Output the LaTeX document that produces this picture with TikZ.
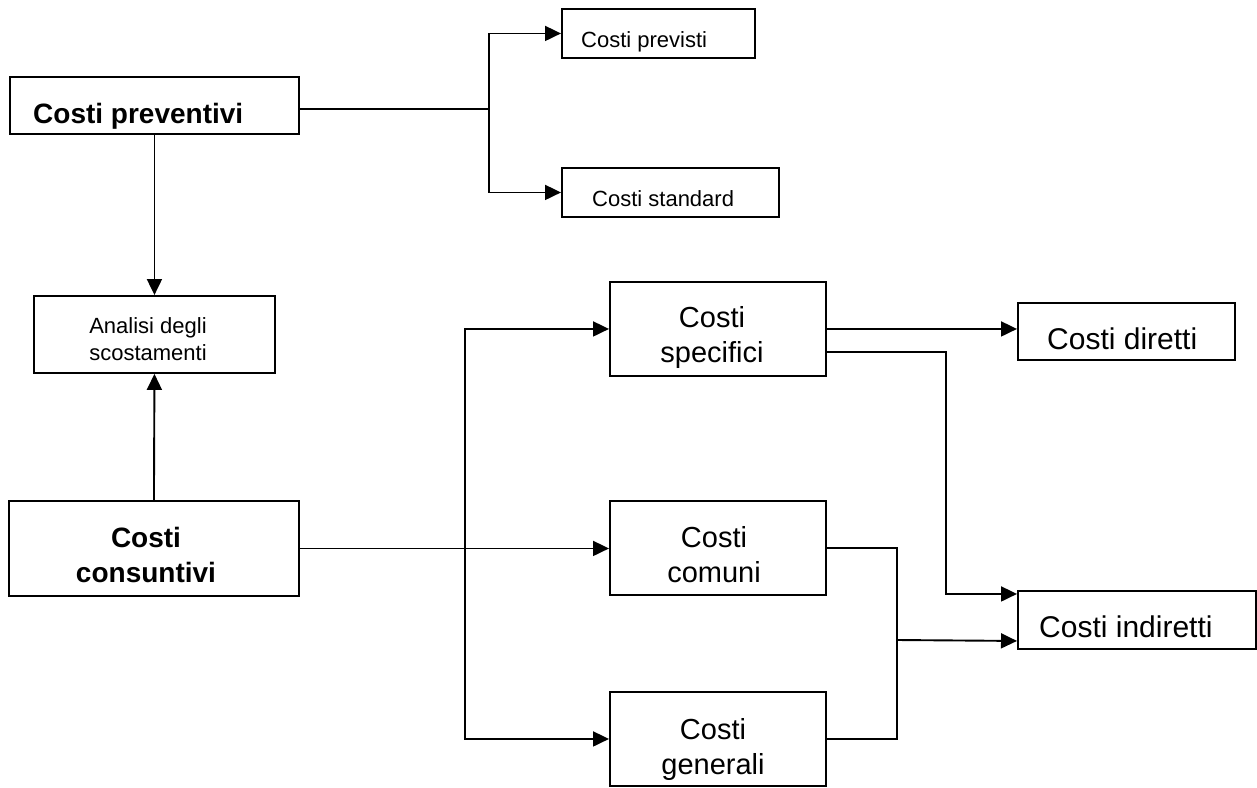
\documentclass[tikz,border=0pt]{standalone}
\usepackage{fontspec}
\setmainfont{Liberation Sans}
\usetikzlibrary{arrows.meta,calc}
\begin{document}
\begin{tikzpicture}[x=1pt,y=-1pt,
  box/.style={draw, line width=1.9pt, inner sep=0pt, anchor=north west},
  conn/.style={line width=1.9pt},
  arr/.style={conn, -{Triangle[length=16pt,width=15pt]}},
  small/.style={font=\fontsize{22}{27}\selectfont},
  big/.style={font=\fontsize{29}{35}\selectfont},
  bigd/.style={font=\fontsize{30}{36}\selectfont},
  bigb/.style={font=\fontsize{28}{35}\selectfont\bfseries},
  lt/.style={inner sep=0pt, anchor=base west},
  ct/.style={inner sep=0pt, align=center, anchor=center}]
\useasboundingbox (0,0) rectangle (1257,787);
% boxes
\node[box, minimum width=289pt, minimum height=57pt] (prev) at (9,76) {};
\node[box, minimum width=193pt, minimum height=49pt] (previsti) at (561,8) {};
\node[box, minimum width=217pt, minimum height=49pt] (standard) at (561,167) {};
\node[box, minimum width=241pt, minimum height=77pt] (analisi) at (33,295) {};
\node[box, minimum width=290pt, minimum height=95pt] (cons) at (8,500) {};
\node[box, minimum width=216pt, minimum height=94pt] (spec) at (609,281) {};
\node[box, minimum width=216pt, minimum height=94pt] (comuni) at (609,500) {};
\node[box, minimum width=216pt, minimum height=94pt] (gen) at (609,691) {};
\node[box, minimum width=217pt, minimum height=57pt] (dir) at (1017,302) {};
\node[box, minimum width=238pt, minimum height=58pt] (ind) at (1017,590) {};
% texts
\node[lt, bigb] (tprev) at (33,123) {Costi preventivi};
\node[lt, small] (tprevisti) at (581,47) {Costi previsti};
\node[lt, small] (tstandard) at (592,206) {Costi standard};
\node[ct, small] (tanalisi) at (148,339) {Analisi degli\\scostamenti};
\node[ct, bigb] (tcons) at (146,555) {Costi\\consuntivi};
\node[ct, big] (tspec) at (712,337) {Costi\\specifici};
\node[ct, big] (tcomuni) at (714,555) {Costi\\comuni};
\node[ct, big] (tgen) at (713,749) {Costi\\generali};
\node[lt, bigd] (tdir) at (1047,349) {Costi diretti};
\node[lt, bigd] (tind) at (1039,637) {Costi indiretti};
% connectors
\coordinate (j1) at (489,109);
\draw[conn] (prev.east |- j1) -- (j1);
\draw[arr] (j1) |- (previsti.west);
\draw[arr] (j1) |- (standard.west);
\draw[arr] (prev.south) -- (analisi.north);
\draw[arr] (cons.north) -- (analisi.south);
\draw[arr] (cons.east) -- (cons.east -| comuni.west);
\coordinate (v) at (465,547);
\draw[arr] (v) |- (spec.west);
\draw[arr] (v) |- (gen.west);
\draw[arr] (spec.east) -- (spec.east -| dir.west);
\coordinate (k) at (946,352);
\coordinate (ia) at ($(ind.west)+(0,-26)$);
\coordinate (ib) at ($(ind.west)+(0,21)$);
\draw[arr] (spec.east |- k) -- (k) |- (ia);
\coordinate (m) at (897,640);
\draw[conn] (comuni.east) -- (comuni.east -| m) -- (m |- gen.east) -- (gen.east);
\draw[arr] (m) -- (ib);
\end{tikzpicture}
\end{document}
